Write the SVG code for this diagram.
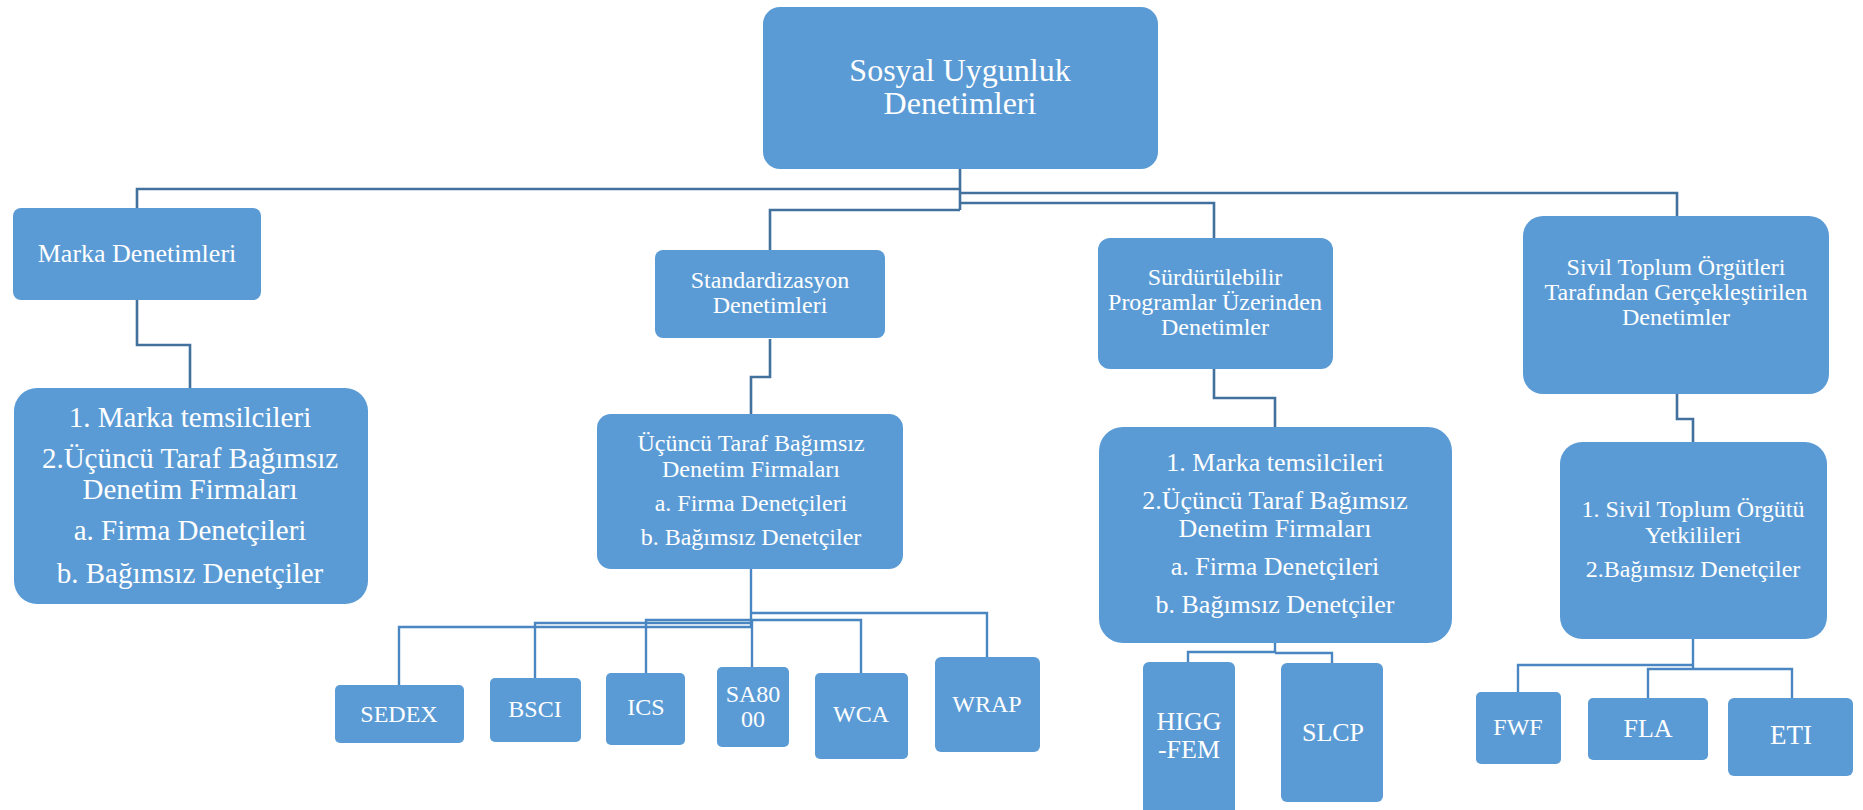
<svg xmlns="http://www.w3.org/2000/svg" width="1863" height="810" viewBox="0 0 1863 810">
<style>
.b{fill:#5B9BD5}
.t{fill:#FFFFFF;font-family:"Liberation Serif","Times New Roman",serif;text-anchor:middle}
.c1{fill:none;stroke:#41719C;stroke-width:2.6}
.c2{fill:none;stroke:#4A86C1;stroke-width:2.4}
</style>
<rect width="1863" height="810" fill="#FFFFFF"/>
<g id="connectors">
<path class="c1" d="M960,169 V210"/>
<path class="c1" d="M960,189 H137 V208"/>
<path class="c1" d="M960,193 H1677 V216"/>
<path class="c1" d="M960,203 H1214 V238"/>
<path class="c1" d="M960,210 H770 V250"/>
<path class="c1" d="M137,298 V345 H190 V388"/>
<path class="c1" d="M770,339 V377 H751 V414"/>
<path class="c1" d="M1214,369 V398 H1275 V427"/>
<path class="c1" d="M1677,394 V419 H1693 V442"/>
<path class="c2" d="M751,569 V627"/>
<path class="c2" d="M751,613 H987 V657"/>
<path class="c2" d="M752,620 V667"/>
<path class="c2" d="M752,620 H861 V673"/>
<path class="c2" d="M752,620 H646 V673"/>
<path class="c2" d="M752,623 H535 V678"/>
<path class="c2" d="M752,627 H399 V685"/>
<path class="c2" d="M1275,643 V653"/>
<path class="c2" d="M1275,652 H1188 V662"/>
<path class="c2" d="M1275,653 H1332 V663"/>
<path class="c2" d="M1693,639 V669"/>
<path class="c2" d="M1693,665 H1518 V692"/>
<path class="c2" d="M1693,669 H1648 V698"/>
<path class="c2" d="M1693,669 H1792 V698"/>
</g>
<g id="root">
<rect class="b" x="763" y="7" width="395" height="162" rx="17"/>
<text class="t" font-size="32" x="960" y="81">Sosyal Uygunluk</text>
<text class="t" font-size="32" x="960" y="114">Denetimleri</text>
</g>
<g id="marka">
<rect class="b" x="13" y="208" width="248" height="92" rx="8"/>
<text class="t" font-size="26" x="137" y="262">Marka Denetimleri</text>
</g>
<g id="standardizasyon">
<rect class="b" x="655" y="250" width="230" height="88" rx="8"/>
<text class="t" font-size="24" x="770" y="288">Standardizasyon</text>
<text class="t" font-size="24" x="770" y="313">Denetimleri</text>
</g>
<g id="surdurulebilir">
<rect class="b" x="1098" y="238" width="235" height="131" rx="12"/>
<text class="t" font-size="24" x="1215" y="285">Sürdürülebilir</text>
<text class="t" font-size="24" x="1215" y="310">Programlar Üzerinden</text>
<text class="t" font-size="24" x="1215" y="335">Denetimler</text>
</g>
<g id="sivil">
<rect class="b" x="1523" y="216" width="306" height="178" rx="20"/>
<text class="t" font-size="24" x="1676" y="275">Sivil Toplum Örgütleri</text>
<text class="t" font-size="24" x="1676" y="300">Tarafından Gerçekleştirilen</text>
<text class="t" font-size="24" x="1676" y="325">Denetimler</text>
</g>
<g id="marka-denetciler">
<rect class="b" x="14" y="388" width="354" height="216" rx="23"/>
<text class="t" font-size="29" x="190" y="427">1. Marka temsilcileri</text>
<text class="t" font-size="29" x="190" y="468">2.Üçüncü Taraf Bağımsız</text>
<text class="t" font-size="29" x="190" y="499">Denetim Firmaları</text>
<text class="t" font-size="29" x="190" y="540">a. Firma Denetçileri</text>
<text class="t" font-size="29" x="190" y="583">b. Bağımsız Denetçiler</text>
</g>
<g id="ucuncu-taraf">
<rect class="b" x="597" y="414" width="306" height="155" rx="14"/>
<text class="t" font-size="24" x="751" y="451">Üçüncü Taraf Bağımsız</text>
<text class="t" font-size="24" x="751" y="477">Denetim Firmaları</text>
<text class="t" font-size="24" x="751" y="511">a. Firma Denetçileri</text>
<text class="t" font-size="24" x="751" y="545">b. Bağımsız Denetçiler</text>
</g>
<g id="program-denetciler">
<rect class="b" x="1099" y="427" width="353" height="216" rx="24"/>
<text class="t" font-size="26" x="1275" y="471">1. Marka temsilcileri</text>
<text class="t" font-size="26" x="1275" y="509">2.Üçüncü Taraf Bağımsız</text>
<text class="t" font-size="26" x="1275" y="537">Denetim Firmaları</text>
<text class="t" font-size="26" x="1275" y="575">a. Firma Denetçileri</text>
<text class="t" font-size="26" x="1275" y="613">b. Bağımsız Denetçiler</text>
</g>
<g id="stk-denetciler">
<rect class="b" x="1560" y="442" width="267" height="197" rx="22"/>
<text class="t" font-size="24" x="1693" y="517">1. Sivil Toplum Örgütü</text>
<text class="t" font-size="24" x="1693" y="543">Yetkilileri</text>
<text class="t" font-size="24" x="1693" y="577">2.Bağımsız Denetçiler</text>
</g>
<g id="sedex">
<rect class="b" x="335" y="685" width="129" height="58" rx="5"/>
<text class="t" font-size="24" x="399" y="722">SEDEX</text>
</g>
<g id="bsci">
<rect class="b" x="490" y="678" width="91" height="64" rx="5"/>
<text class="t" font-size="24" x="535" y="717">BSCI</text>
</g>
<g id="ics">
<rect class="b" x="606" y="673" width="79" height="72" rx="5"/>
<text class="t" font-size="24" x="646" y="715">ICS</text>
</g>
<g id="sa8000">
<rect class="b" x="717" y="667" width="72" height="80" rx="5"/>
<text class="t" font-size="24" x="753" y="702">SA80</text>
<text class="t" font-size="24" x="753" y="727">00</text>
</g>
<g id="wca">
<rect class="b" x="815" y="673" width="93" height="86" rx="5"/>
<text class="t" font-size="24" x="861" y="722">WCA</text>
</g>
<g id="wrap">
<rect class="b" x="935" y="657" width="105" height="95" rx="6"/>
<text class="t" font-size="24" x="987" y="712">WRAP</text>
</g>
<g id="higg-fem">
<rect class="b" x="1143" y="662" width="92" height="160" rx="6"/>
<text class="t" font-size="26" x="1189" y="730">HIGG</text>
<text class="t" font-size="26" x="1189" y="758">-FEM</text>
</g>
<g id="slcp">
<rect class="b" x="1281" y="663" width="102" height="139" rx="6"/>
<text class="t" font-size="26" x="1333" y="741">SLCP</text>
</g>
<g id="fwf">
<rect class="b" x="1476" y="692" width="85" height="72" rx="5"/>
<text class="t" font-size="24" x="1518" y="735">FWF</text>
</g>
<g id="fla">
<rect class="b" x="1588" y="698" width="120" height="62" rx="5"/>
<text class="t" font-size="26" x="1648" y="737">FLA</text>
</g>
<g id="eti">
<rect class="b" x="1728" y="698" width="125" height="78" rx="6"/>
<text class="t" font-size="27" x="1791" y="744">ETI</text>
</g>
</svg>
